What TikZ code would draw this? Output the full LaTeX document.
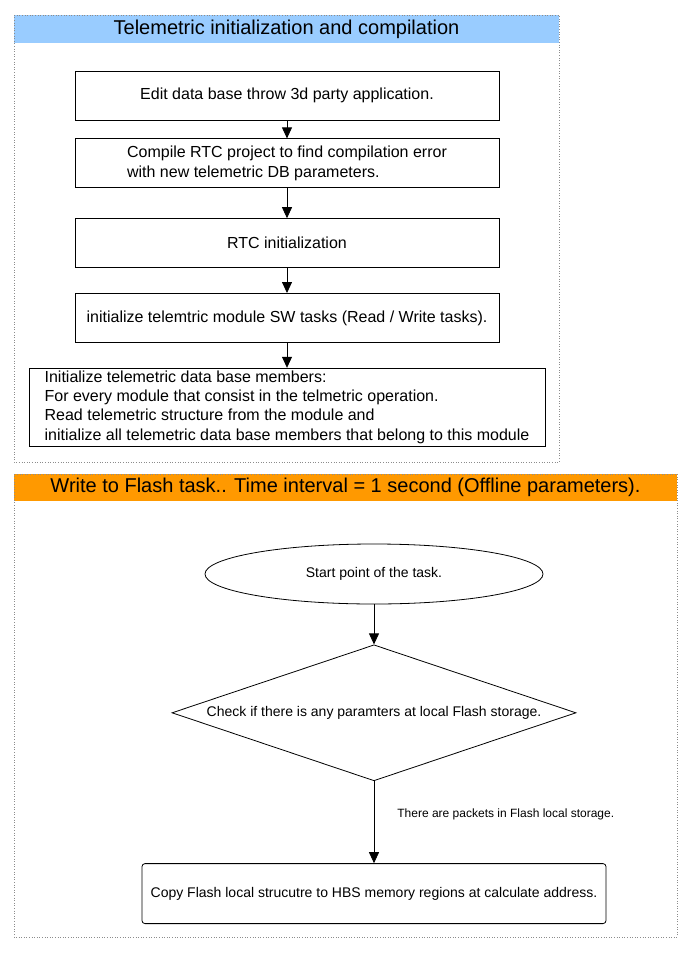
\documentclass[tikz,border=0pt]{standalone}
\usepackage{fontspec}
\setmainfont{Liberation Sans}
\usepackage{xcolor}
\usetikzlibrary{arrows.meta,positioning,shapes.geometric}
\definecolor{headblue}{HTML}{99CCFF}
\definecolor{headorange}{HTML}{FF9900}
\tikzset{
	stepbox/.style={draw, line width=0.8pt, fill=white, minimum width=424pt, minimum height=49pt, inner sep=0pt, align=left, font=\fontsize{16}{20.5}\selectfont},
	header/.style={inner sep=0pt, font=\fontsize{20}{24}\selectfont},
	frame/.style={draw=black!45, dotted, line width=0.6pt},
	startnode/.style={draw, ellipse, line width=0.8pt, minimum width=338pt, minimum height=60pt, inner sep=0pt, font=\fontsize{14}{17}\selectfont},
	checknode/.style={draw, diamond, aspect=2.97, line width=0.8pt, minimum width=404pt, minimum height=136pt, inner sep=0pt, font=\fontsize{14}{17}\selectfont},
	copybox/.style={draw, rounded corners=3pt, line width=0.8pt, minimum width=464pt, minimum height=60pt, inner sep=0pt, font=\fontsize{14}{17}\selectfont},
	flow/.style={line width=0.8pt, -{Triangle[length=11pt,width=10pt]}},
	lbl/.style={inner sep=0pt, font=\fontsize{12}{14}\selectfont}
}
\newcommand{\connectsteps}[2]{
	\draw[flow] (#1.south) -- (#2.north);
}

\begin{document}
\begin{tikzpicture}[x=1pt, y=-1pt]
		\useasboundingbox (0,0) rectangle (692,953);
		
		% telemetric initialization
		\node[header, fill=headblue, minimum width=545pt, minimum height=28pt] (init-head) at (286.5,29) {Telemetric initialization and compilation};
		\coordinate (init-corner) at (559,462);
		\draw[frame] (init-head.north west) rectangle (init-corner);
		
		\node[stepbox] (init-edit) at (287,95.5) {Edit data base throw 3d party application.};
		\node[stepbox, below=18pt of init-edit] (init-compile) {Compile RTC project to find compilation error \\ with new telemetric DB parameters.};
		\node[stepbox, below=30pt of init-compile] (init-rtc) {RTC initialization};
		\node[stepbox, below=25pt of init-rtc] (init-tasks) {initialize telemtric module SW tasks (Read / Write tasks).};
		\node[stepbox, minimum width=516pt, minimum height=78pt, font=\fontsize{16}{19.3}\selectfont, below=25pt of init-tasks] (init-members) {Initialize telemetric data base members: \\ For every module that consist in the telmetric operation. \\ Read telemetric structure from the module and \\ initialize all telemetric data base members that belong to this module};
		
		\connectsteps{init-edit}{init-compile};
		\connectsteps{init-compile}{init-rtc};
		\connectsteps{init-rtc}{init-tasks};
		\connectsteps{init-tasks}{init-members};
		
		% write to flash task
		\node[header, fill=headorange, minimum width=663pt, minimum height=27pt] (flash-head) at (345.5,487.5) {Write to Flash task.. Time interval = 1 second (Offline parameters).};
		\coordinate (flash-corner) at (677,937);
		\draw[frame] (flash-head.north west) rectangle (flash-corner);
		
		\node[startnode] (flash-start) at (374,574) {Start point of the task.};
		\node[checknode, below=40pt of flash-start] (flash-check) {Check if there is any paramters at local Flash storage.};
		\node[copybox, below=82pt of flash-check] (flash-copy) {Copy Flash local strucutre to HBS memory regions at calculate address.};
		
		\connectsteps{flash-start}{flash-check};
		\draw[flow] (flash-check.south) -- node[lbl, pos=0.4, right=23pt] (flash-label) {There are packets in Flash local storage.} (flash-copy.north);
		
\end{tikzpicture}
\end{document}
